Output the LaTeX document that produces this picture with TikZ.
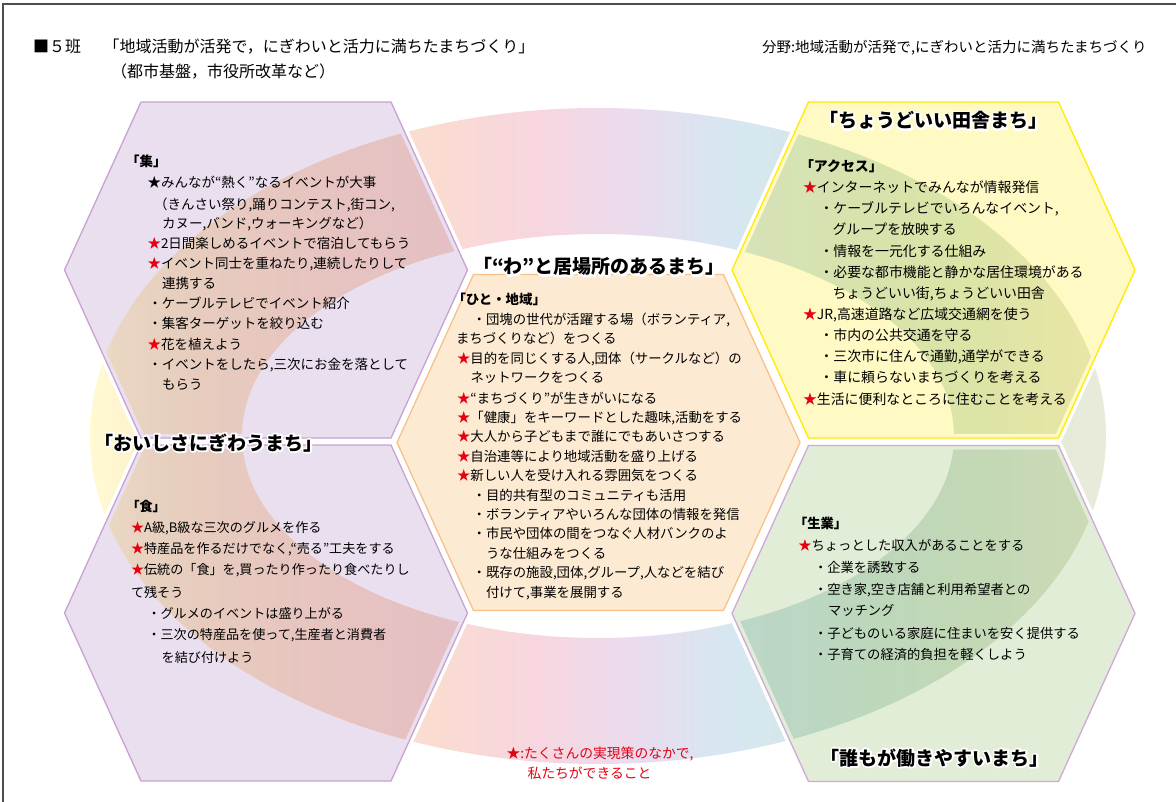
\documentclass[tikz,border=0pt]{standalone}
\usepackage{fontspec}
\setmainfont{Noto Sans CJK JP}
\definecolor{rA}{HTML}{FFFAD2}
\definecolor{rB}{HTML}{FCEDCB}
\definecolor{rC}{HTML}{FCE3CC}
\definecolor{rD}{HTML}{FADCD0}
\definecolor{rE}{HTML}{F7D6E0}
\definecolor{rF}{HTML}{E9DCEE}
\definecolor{rG}{HTML}{D6E7F2}
\definecolor{rH}{HTML}{D6E8E2}
\definecolor{rI}{HTML}{DDE9D8}
\definecolor{rJ}{HTML}{EAEBDA}
\definecolor{purpleF}{HTML}{EADFEF}
\definecolor{purpleD}{HTML}{C8A2D0}
\definecolor{yellowF}{HTML}{FFFAC4}
\definecolor{yellowD}{HTML}{FFEA00}
\definecolor{greenF}{HTML}{E1EDD6}
\definecolor{greenD}{HTML}{CFA9D7}
\definecolor{orangeF}{HTML}{FDEAD2}
\definecolor{orangeD}{HTML}{F7C189}
\definecolor{starred}{HTML}{E60012}
\definecolor{framec}{HTML}{4D4D4D}
\pgfdeclarehorizontalshading{ringsh}{100bp}{color(0bp)=(rA); color(25bp)=(rA); color(28.9bp)=(rB); color(34.4bp)=(rC); color(41.7bp)=(rD); color(47.1bp)=(rE); color(52.1bp)=(rF); color(56.5bp)=(rG); color(62.4bp)=(rH); color(68.8bp)=(rI); color(75bp)=(rJ); color(100bp)=(rJ)}
\newcommand\rs{\textcolor{starred}{★}}
\newcommand\halotext[1]{\leavevmode\rlap{\textcolor{white}{\special{pdf:literal direct 2 Tr 3.6 w 1 j}#1\special{pdf:literal direct 0 Tr 1 w 0 j}}}#1}
\newcommand\hexpath[3]{\path[#3] ({#1-201.5},#2) -- ({#1-125},{#2-168}) -- ({#1+125},{#2-168}) -- ({#1+201.5},#2) -- ({#1+125},{#2+168}) -- ({#1-125},{#2+168}) -- cycle;}
\begin{document}
\begin{tikzpicture}[x=1pt,y=-1pt,
  base/.style={inner sep=0pt, outer sep=0pt, anchor=base west},
  hdr/.style={base, font=\fontsize{16}{19}\selectfont},
  hdrR/.style={base, font=\fontsize{14.5}{17}\selectfont},
  ttl/.style={base, font=\bfseries\fontsize{19}{22}\selectfont},
  txtA/.style={base, font=\fontsize{13.5}{16}\selectfont},
  txtB/.style={base, font=\fontsize{13.9}{16}\selectfont},
  txtC/.style={base, font=\fontsize{13.4}{16}\selectfont},
  txtD/.style={base, font=\fontsize{13.1}{16}\selectfont},
  txtE/.style={base, font=\fontsize{13.3}{16}\selectfont},
  subh/.style={base, font=\bfseries\fontsize{13.5}{16}\selectfont},
  note/.style={base, text=starred, font=\fontsize{13.8}{16}\selectfont},
  whiteedge/.style={draw=white, line width=8pt, line join=miter},
  frame/.style={draw=framec, line width=1.5pt}]
\useasboundingbox (0,0) rectangle (1176,802);
\fill[white] (0,0) rectangle (1176,802);
% ring
\shade[shading=ringsh, even odd rule] (1106,436) arc[start angle=0, end angle=360, x radius=508, y radius=328] -- cycle (954,436) arc[start angle=360, end angle=0, x radius=356, y radius=202] -- cycle;
% white borders of hexagons
\hexpath{266}{270}{whiteedge}
\hexpath{266}{613}{whiteedge}
\hexpath{933.5}{270}{whiteedge}
\hexpath{933.5}{613.5}{whiteedge}
\hexpath{598.5}{442.5}{whiteedge}
% fills
\hexpath{266}{270}{fill=purpleF, blend mode=multiply}
\hexpath{266}{613}{fill=purpleF, blend mode=multiply}
\hexpath{933.5}{270}{fill=yellowF, blend mode=multiply}
\hexpath{933.5}{613.5}{fill=greenF, blend mode=multiply}
\hexpath{598.5}{442.5}{fill=orangeF}
% outlines
\hexpath{266}{270}{draw=purpleD, line width=1.3pt}
\hexpath{266}{613}{draw=purpleD, line width=1.3pt}
\hexpath{933.5}{270}{draw=yellowD, line width=1.3pt}
\hexpath{933.5}{613.5}{draw=greenD, line width=1.3pt}
\hexpath{598.5}{442.5}{draw=orangeD, line width=1.3pt}
% frame
\path[frame] (3,802) -- (3,4) -- (1176,4);
% header
\node[hdr] (h1) at (33,53) {■５班};
\node[hdr] (h2) at (103.5,53) {「地域活動が活発で，にぎわいと活力に満ちたまちづくり」};
\node[hdr] (h3) at (111,78) {（都市基盤，市役所改革など）};
\node[hdrR] (h4) at (762,52.5) {分野:地域活動が活発で,にぎわいと活力に満ちたまちづくり};
% titles
\node[ttl] (t1) at (819.5,128) {\halotext{「ちょうどいい田舎まち」}};
\node[ttl] (t2) at (473,274) {\halotext{「“わ”と居場所のあるまち」}};
\node[ttl] (t3) at (94.5,450) {\halotext{「おいしさにぎわうまち」}};
\node[ttl] (t4) at (820.5,765) {\halotext{「誰もが働きやすいまち」}};
% block: 集
\node[subh] (s0) at (126,167) {「集」};
\foreach[count=\i] \x/\y/\tx in {
 147.5/188/{★みんなが“熱く”なるイベントが大事},
 154/210/{（きんさい祭り,踊りコンテスト,街コン,},
 162/229/{カヌー,バンド,ウォーキングなど）},
 147.5/249/{\rs 2日間楽しめるイベントで宿泊してもらう},
 147.5/269/{\rs イベント同士を重ねたり,連続したりして},
 162/289/{連携する},
 148.3/309/{・ケーブルテレビでイベント紹介},
 148.3/329/{・集客ターゲットを絞り込む},
 147.5/350/{\rs 花を植えよう},
 148.3/370/{・イベントをしたら,三次にお金を落として},
 162/390/{もらう}}
 \node[txtA] (s\i) at (\x,\y) {\tx};
% block: アクセス
\node[subh, font=\bfseries\fontsize{13.9}{16}\selectfont] (a0) at (800,172) {「アクセス」};
\foreach[count=\i] \x/\y/\tx in {
 803/193/{\rs インターネットでみんなが情報発信},
 819.5/214/{・ケーブルテレビでいろんなイベント,},
 832.5/235/{グループを放映する},
 819.5/257/{・情報を一元化する仕組み},
 819.5/278/{・必要な都市機能と静かな居住環境がある},
 832.5/299/{ちょうどいい街,ちょうどいい田舎},
 803/320/{\rs JR,高速道路など広域交通網を使う},
 819.5/341/{・市内の公共交通を守る},
 819.5/362/{・三次市に住んで通勤,通学ができる},
 819.5/383/{・車に頼らないまちづくりを考える},
 803/404/{\rs 生活に便利なところに住むことを考える}}
 \node[txtB] (a\i) at (\x,\y) {\tx};
% block: ひと・地域
\node[subh, font=\bfseries\fontsize{13.4}{16}\selectfont] (c0) at (452.5,305) {「ひと・地域」};
\foreach[count=\i] \x/\y/\tx in {
 472.6/325/{・団塊の世代が活躍する場（ボランティア,},
 456/344/{まちづくりなど）をつくる},
 457/364/{\rs 目的を同じくする人,団体（サークルなど）の},
 470.5/383/{ネットワークをつくる},
 457/403/{\rs “まちづくり”が生きがいになる},
 457/422/{\rs「健康」をキーワードとした趣味,活動をする},
 457/442/{\rs 大人から子どもまで誰にでもあいさつする},
 457/461/{\rs 自治連等により地域活動を盛り上げる},
 457/480/{\rs 新しい人を受け入れる雰囲気をつくる},
 472.6/500/{・目的共有型のコミュニティも活用},
 472.6/519/{・ボランティアやいろんな団体の情報を発信},
 472.6/538/{・市民や団体の間をつなぐ人材バンクのよ},
 486/558/{うな仕組みをつくる},
 472.6/577/{・既存の施設,団体,グループ,人などを結び},
 486/597/{付けて,事業を展開する}}
 \node[txtC] (c\i) at (\x,\y) {\tx};
% block: 食
\node[subh, font=\bfseries\fontsize{13.1}{16}\selectfont] (f0) at (126.5,511) {「食」};
\foreach[count=\i] \x/\y/\tx in {
 131/532/{\rs A級,B級な三次のグルメを作る},
 131/553/{\rs 特産品を作るだけでなく,“売る”工夫をする},
 131/574/{\rs 伝統の「食」を,買ったり作ったり食べたりし},
 131/597/{て残そう},
 147.5/618/{・グルメのイベントは盛り上がる},
 147.5/639/{・三次の特産品を使って,生産者と消費者},
 161.7/662/{を結び付けよう}}
 \node[txtD] (f\i) at (\x,\y) {\tx};
% block: 生業
\node[subh, font=\bfseries\fontsize{13.3}{16}\selectfont] (g0) at (794,528) {「生業」};
\foreach[count=\i] \x/\y/\tx in {
 798.3/550/{\rs ちょっとした収入があることをする},
 814/572/{・企業を誘致する},
 814/594/{・空き家,空き店舗と利用希望者との},
 828/615/{マッチング},
 814/638/{・子どものいる家庭に住まいを安く提供する},
 814/659/{・子育ての経済的負担を軽くしよう}}
 \node[txtE] (g\i) at (\x,\y) {\tx};
% note
\node[note] (n1) at (506.5,758) {★:たくさんの実現策のなかで,};
\node[note] (n2) at (527.5,778) {私たちができること};
\end{tikzpicture}
\end{document}
